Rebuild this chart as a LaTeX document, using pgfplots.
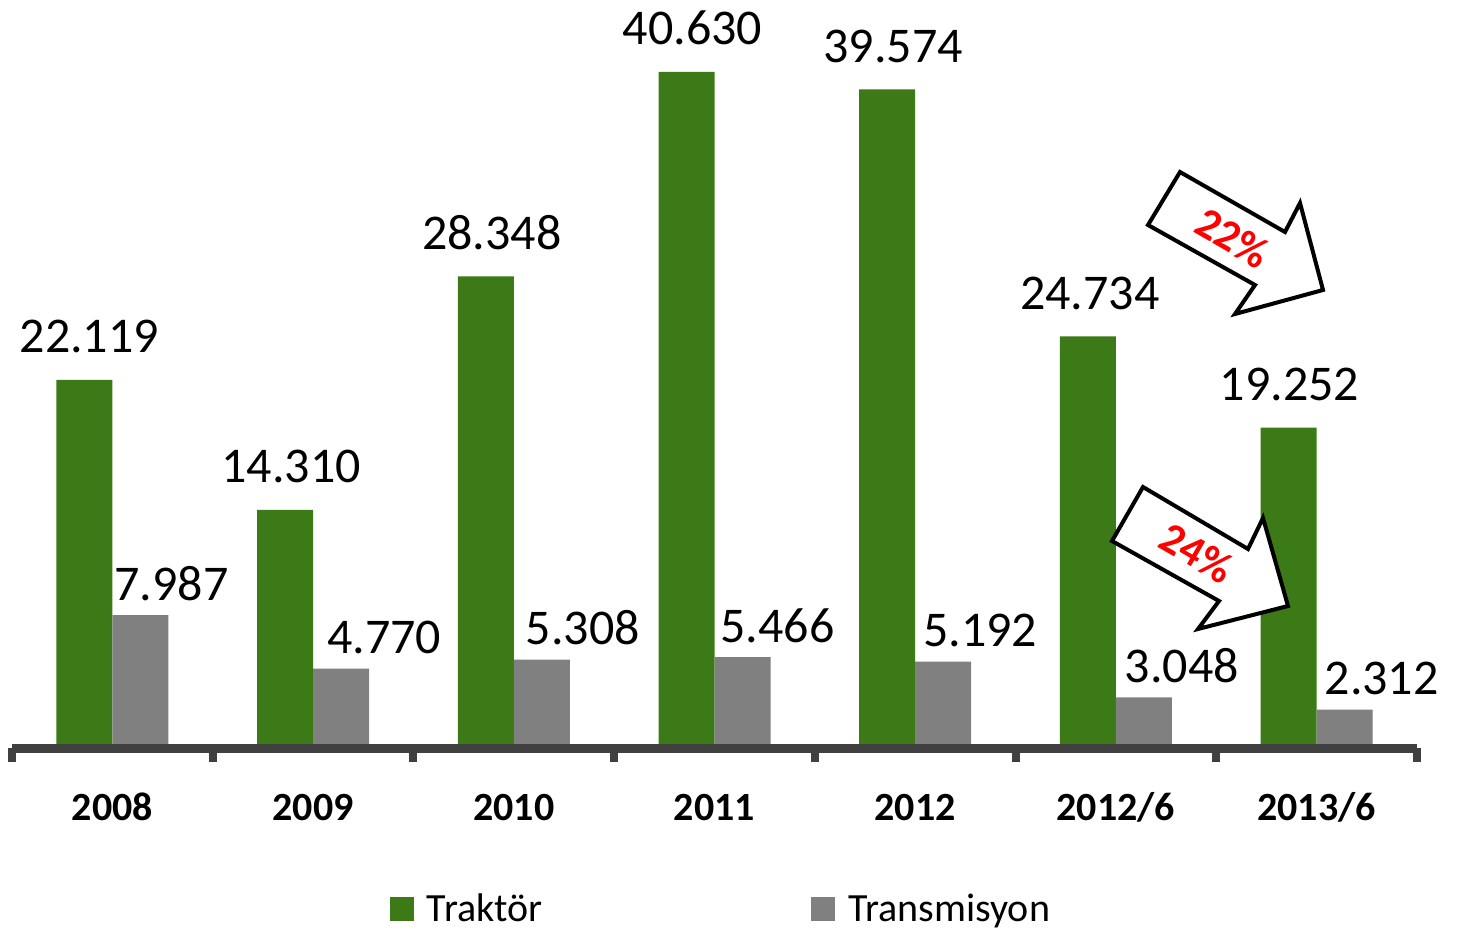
\documentclass[border=0pt]{standalone}
\usepackage{fontspec}
\setmainfont{Carlito}
\usepackage{pgfplots}
\usepackage{pgfplotstable}
\pgfplotsset{compat=1.18}
\definecolor{tgreen}{RGB}{59,122,22}
\definecolor{tgray}{RGB}{128,128,128}
\definecolor{axgray}{RGB}{64,64,64}

\pgfplotstableread{
x y lab dx
0 22119 22.119 -11.5
1 14310 14.310 -11
2 28348 28.348 -11
3 40630 40.630 -11
4 39574 39.574 -11
5 24734 24.734 -13
6 19252 19.252 -13.5
}\traktor

\pgfplotstableread{
x y lab dx
0 7987 7.987 29.5
1 4770 4.770 35.5
2 5308 5.308 34.5
3 5466 5.466 31.5
4 5192 5.192 32.5
5 3048 3.048 33
6 2312 2.312 32.5
}\transmisyon

\begin{document}
\begin{tikzpicture}[x=1pt,y=1pt]
\useasboundingbox (-6pt,-92pt) rectangle (724.5pt,374pt);
\begin{axis}[
  at={(0,0)}, anchor=south west,
  scale only axis, width=702.5pt, height=374pt,
  xmin=-0.5, xmax=6.5, ymin=0, ymax=44950,
  axis y line=none, axis x line*=bottom,
  x axis line style={-, line width=4.5pt, color=axgray},
  xtick={0,...,6},
  xticklabels={2008,2009,2010,2011,2012,2012/6,2013/6},
  major tick length=0pt,
  minor xtick={-0.5,0.5,...,6.5},
  minor tick length=7pt, tick align=outside,
  minor tick style={line width=4pt, color=axgray},
  major tick style={draw=none},
  xticklabel style={font=\fontsize{20}{24}\selectfont\bfseries, anchor=base, yshift=-36pt},
  axis on top,
  clip=false,
  legend columns=2,
  legend style={draw=none, fill=none, at={(0.505,0)}, anchor=center, xshift=0.25pt, yshift=-80.5pt,
    font=\fontsize{20}{24}\selectfont,
    /tikz/every even column/.append style={column sep=132.5pt}},
]
\addplot[ybar, fill=tgreen, draw=none, bar width=28pt, bar shift=-14pt,
  point meta=explicit symbolic,
  visualization depends on={\thisrow{dx} \as \dx},
  nodes near coords,
  nodes near coords style={font=\fontsize{25}{30}\selectfont, text=black, anchor=base, inner sep=0pt, yshift=13.5pt, xshift=\dx pt},
  legend image code/.code={\fill[tgreen] (-4.5pt,-6pt) rectangle (7.5pt,6pt); \path (12pt,0pt);}]
  table[x=x, y=y, meta=lab] {\traktor};
\addlegendentry{Traktör}
\addplot[ybar, fill=tgray, draw=none, bar width=28pt, bar shift=14pt,
  point meta=explicit symbolic,
  visualization depends on={\thisrow{dx} \as \dx},
  nodes near coords,
  nodes near coords style={font=\fontsize{25}{30}\selectfont, text=black, anchor=base, inner sep=0pt, yshift=7.5pt, xshift=\dx pt},
  legend image code/.code={\fill[tgray] (-4.5pt,-6pt) rectangle (7.5pt,6pt); \path (12pt,0pt);}]
  table[x=x, y=y, meta=lab] {\transmisyon};
\addlegendentry{Transmisyon}
\end{axis}
\draw[line width=2pt, fill=white, line join=miter]
  (584,288) -- (636.5,258) -- (644,272.5) -- (655.5,229) -- (611.5,217) -- (621.5,231.5) -- (568,261.5) -- cycle;
\node[rotate=-30, text=red, font=\fontsize{22}{26}\selectfont\bfseries] at (610.5,255) {22\%};
\draw[line width=2pt, fill=white, line join=miter]
  (565.5,130.5) -- (618,99.5) -- (625.5,115) -- (638,71) -- (593,59.5) -- (603.5,73.5) -- (550,103.5) -- cycle;
\node[rotate=-30, text=red, font=\fontsize{22}{26}\selectfont\bfseries] at (592.5,97.5) {24\%};
\end{tikzpicture}
\end{document}
